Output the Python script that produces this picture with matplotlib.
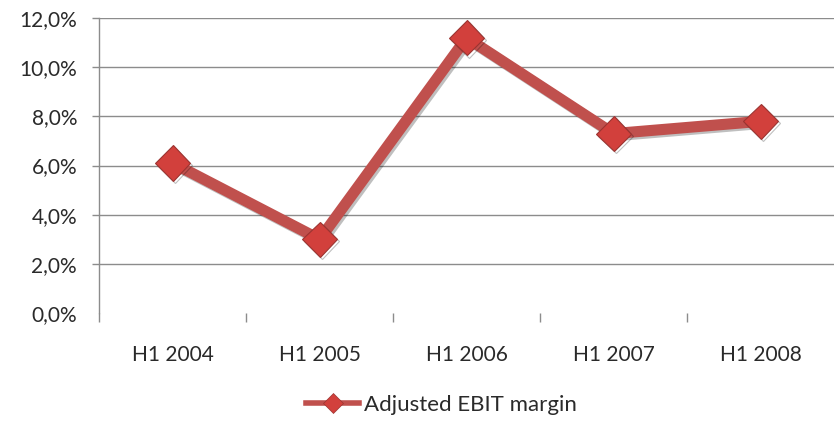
import numpy as np
import matplotlib
matplotlib.use('Agg')
import matplotlib.pyplot as plt
from matplotlib.lines import Line2D
from matplotlib.ticker import FuncFormatter, FixedLocator
import matplotlib.patheffects as pe

plt.rcParams['font.family'] = ['Lato', 'DejaVu Sans']

periods = ['H1 2004', 'H1 2005', 'H1 2006', 'H1 2007', 'H1 2008']
ebit_margin = [6.1, 3.0, 11.2, 7.3, 7.8]
series_name = 'Adjusted EBIT margin'

red = '#C0504D'
grid_col = '#8C8C8C'
text_col = '#2A2A2A'

fig = plt.figure(figsize=(8.34, 4.21), dpi=100)
ax = fig.add_axes([0.119, 0.2565, 0.881, 0.7005])

x = np.arange(len(periods))
shadow = [pe.SimpleLineShadow(offset=(1.5, -1.5), shadow_color='#000000', alpha=0.25), pe.Normal()]
ax.plot(x, ebit_margin, color=red, lw=8, solid_joinstyle='round',
        marker='D', markersize=18, markerfacecolor='#D2403C',
        markeredgecolor='#9B3431', markeredgewidth=0.8,
        path_effects=shadow, zorder=3)

ax.set_xlim(-0.5, len(periods) - 0.5)
ax.set_ylim(0, 12)
ax.yaxis.set_major_locator(FixedLocator(np.arange(0, 12.1, 2)))
ax.yaxis.set_major_formatter(FuncFormatter(lambda v, p: f'{v:.1f}%'.replace('.', ',')))
ax.grid(axis='y', color=grid_col, lw=1)
ax.set_axisbelow(True)
ax.yaxis.get_gridlines()[0].set_visible(False)
ax.yaxis.get_major_ticks()[0].tick1line.set_visible(False)

# category boundaries as major ticks, labels on minor ticks
ax.set_xticks(np.arange(-0.5, len(periods) - 1, 1.0))
ax.set_xticklabels([])
ax.set_xticks(x, minor=True)
ax.set_xticklabels(periods, minor=True)
ax.tick_params(axis='x', which='major', length=6.5, width=1, color=grid_col, direction='out')
ax.tick_params(axis='x', which='minor', length=0, pad=23, labelsize=15, labelcolor=text_col)
ax.tick_params(axis='y', length=5, width=1, color=grid_col, pad=11, labelsize=15, labelcolor=text_col)

for s in ['top', 'right', 'bottom']:
    ax.spines[s].set_visible(False)
ax.spines['left'].set_color(grid_col)
ax.spines['left'].set_linewidth(1)

handle = Line2D([], [], color=red, lw=4, marker='D', markersize=10,
                markerfacecolor='#D2403C', markeredgecolor='#9B3431', markeredgewidth=0.5)
fig.legend([handle], [series_name], loc='center', bbox_to_anchor=(0.529, 0.038),
           frameon=False, fontsize=16, handlelength=2.4, handletextpad=0.2,
           labelcolor=text_col)

fig.savefig('out.png', dpi=100)
